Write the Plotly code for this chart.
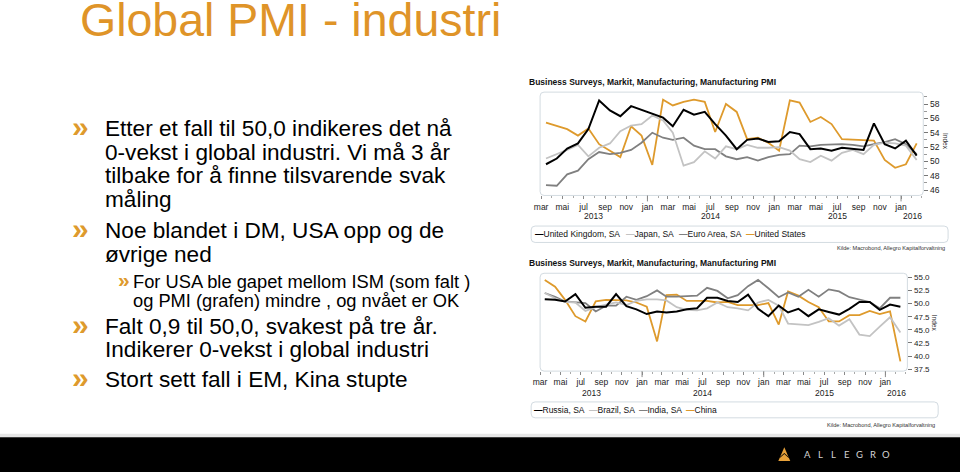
import plotly.graph_objects as go
import pandas as pd

W, H = 960, 472

# ---------------- data ----------------
months = pd.date_range("2013-03-01", "2016-02-01", freq="MS") + pd.Timedelta(days=14)

uk = [49.6, 50.4, 51.8, 52.5, 54.5, 58.5, 57.1, 56.3, 57.7, 57.2, 56.6, 56.1,
      54.9, 57.2, 56.5, 56.9, 55.2, 53.6, 51.7, 53.0, 53.2, 52.7, 52.8, 54.1,
      53.8, 51.7, 51.8, 51.5, 51.9, 51.7, 51.6, 55.3, 52.4, 51.8, 52.9, 50.8]
japan = [50.4, 51.0, 51.6, 52.3, 50.7, 51.9, 52.5, 54.2, 55.0, 55.2, 56.4, 55.7,
         54.0, 49.4, 49.9, 51.4, 50.4, 52.1, 51.7, 52.3, 51.9, 51.9, 52.0, 51.5,
         50.3, 49.9, 50.8, 50.1, 51.2, 51.6, 51.0, 52.3, 52.6, 52.5, 52.2, 50.2]
euro = [46.7, 46.6, 48.2, 48.7, 50.3, 51.3, 51.0, 51.2, 51.6, 52.6, 54.0, 53.3,
        53.0, 53.3, 52.2, 51.7, 51.7, 50.7, 50.3, 50.6, 50.1, 50.6, 50.9, 51.0,
        52.2, 52.1, 52.3, 52.4, 52.4, 52.3, 52.1, 52.4, 52.7, 53.1, 52.4, 51.0]
us = [55.4, 54.9, 54.5, 53.6, 54.6, 52.4, 51.5, 50.6, 54.9, 53.6, 49.5, 58.6,
      57.8, 58.3, 58.6, 58.3, 54.1, 58.0, 56.9, 53.1, 53.3, 52.6, 51.5, 58.5,
      58.2, 55.5, 56.2, 55.2, 53.1, 53.0, 53.0, 52.9, 50.2, 49.1, 49.6, 52.5]

russia = [50.8, 50.7, 50.4, 51.8, 49.2, 49.4, 49.4, 51.8, 49.5, 48.9, 48.0, 48.5,
          48.3, 48.5, 48.9, 49.1, 51.1, 51.1, 50.5, 50.3, 51.7, 49.0, 47.6, 49.6,
          48.3, 49.0, 47.6, 48.9, 48.4, 47.9, 49.0, 50.3, 50.3, 48.8, 49.8, 49.4]
brazil = [52.0, 51.0, 50.3, 50.2, 48.6, 49.3, 49.8, 50.2, 49.7, 50.5, 50.8, 50.8,
          50.6, 49.3, 48.8, 48.7, 49.1, 50.2, 49.3, 49.1, 48.7, 50.2, 50.7, 49.6,
          46.2, 46.0, 45.9, 46.5, 47.2, 45.8, 47.0, 44.1, 43.8, 45.6, 47.4, 44.5]
india = [52.0, 51.3, 50.4, 50.3, 50.1, 48.5, 49.6, 49.6, 51.3, 50.7, 51.4, 52.5,
         51.3, 51.3, 51.4, 51.5, 53.0, 52.4, 51.0, 51.6, 53.3, 54.5, 52.9, 51.2,
         52.1, 51.3, 52.6, 51.3, 52.7, 52.3, 51.2, 50.7, 50.3, 49.1, 51.1, 51.1]
china = [54.5, 53.2, 50.7, 47.6, 46.6, 50.4, 50.7, 50.7, 50.6, 50.2, 49.4, 42.8,
         51.6, 51.7, 50.5, 50.5, 50.5, 50.2, 50.3, 49.7, 49.7, 49.7, 50.1, 46.0,
         52.3, 51.5, 50.3, 49.3, 46.6, 46.6, 47.8, 47.8, 48.6, 48.0, 48.5, 39.0]

month_names = ["jan", "feb", "mar", "apr", "mai", "jun", "jul", "aug", "sep", "okt", "nov", "des"]
top_yticks = [46, 48, 50, 52, 54, 56, 58]
bot_yticks = [37.5, 40.0, 42.5, 45.0, 47.5, 50.0, 52.5, 55.0]

chart_title = "Business Surveys, Markit, Manufacturing, Manufacturing PMI"
top_names = ["United Kingdom, SA", "Japan, SA", "Euro Area, SA", "United States"]
bot_names = ["Russia, SA", "Brazil, SA", "India, SA", "China"]
source = "Kilde: Macrobond, Allegro Kapitalforvaltning"

# ---------------- styles ----------------
ORANGE = "#DE9A2C"
C_BLACK = "#000000"
C_LIGHT = "#c3c3c3"
C_DARK = "#808080"
FONT = "Liberation Sans, Arial, sans-serif"


def px(x):
    return x / W


def py(y):
    return 1 - y / H


def rrect(x0, y0, x1, y1, r):
    pts = [
        ("M", [(x0 + r, y0)]), ("L", [(x1 - r, y0)]), ("Q", [(x1, y0), (x1, y0 + r)]),
        ("L", [(x1, y1 - r)]), ("Q", [(x1, y1), (x1 - r, y1)]), ("L", [(x0 + r, y1)]),
        ("Q", [(x0, y1), (x0, y1 - r)]), ("L", [(x0, y0 + r)]), ("Q", [(x0, y0), (x0 + r, y0)]),
    ]
    s = ""
    for cmd, p in pts:
        s += cmd + " " + " ".join(f"{px(a):.5f},{py(b):.5f}" for a, b in p) + " "
    return s + "Z"


fig = go.Figure()

top_series = [(us, ORANGE, 1.8), (euro, C_DARK, 1.8), (japan, C_LIGHT, 1.8), (uk, C_BLACK, 2.0)]
for vals, col, w in top_series:
    fig.add_trace(go.Scatter(x=months, y=vals, mode="lines", line=dict(color=col, width=w),
                             xaxis="x", yaxis="y", showlegend=False, hoverinfo="skip"))
bot_series = [(china, ORANGE, 1.8), (india, C_DARK, 1.8), (brazil, C_LIGHT, 1.8), (russia, C_BLACK, 2.0)]
for vals, col, w in bot_series:
    fig.add_trace(go.Scatter(x=months, y=vals, mode="lines", line=dict(color=col, width=w),
                             xaxis="x2", yaxis="y2", showlegend=False, hoverinfo="skip"))

tickdates = pd.date_range("2013-03-01", "2016-01-01", freq="2MS")
ticktext = [month_names[d.month - 1] for d in tickdates]

top_range = ["2013-02-26", "2016-03-05"]
bot_range = ["2013-03-01", "2016-03-07"]

TOP_BOX = (537, 92.7, 923, 196.7)
BOT_BOX = (537, 275, 907, 373.5)


def xaxis_cfg(box, rng, anchor):
    return dict(domain=[px(box[0]), px(box[2])], anchor=anchor, type="date", range=rng,
                tickvals=list(tickdates), ticktext=ticktext, ticks="outside", ticklen=3,
                tickcolor="#8a8a8a", tickwidth=1, showline=False, showgrid=False, zeroline=False,
                tickfont=dict(size=8.5, color="#222", family=FONT),
                minor=dict(ticks="outside", ticklen=2, dtick="M1", tick0="2013-01-01",
                           tickcolor="#aaaaaa", showgrid=False))


def yaxis_cfg(box, rng, ticks, anchor, fmt, size, minor):
    d = dict(domain=[py(box[3]), py(box[1])], anchor=anchor, side="right", range=rng,
             tickvals=ticks, tickformat=fmt, ticks="outside", ticklen=4, tickcolor="#777",
             showline=False, showgrid=False, zeroline=False,
             tickfont=dict(size=size, color="#222", family=FONT))
    if minor:
        d["minor"] = dict(ticks="outside", ticklen=3, dtick=1, tick0=0, tickcolor="#999", showgrid=False)
    return d


fig.update_layout(
    width=W, height=H, margin=dict(l=0, r=0, t=0, b=0),
    paper_bgcolor="white", plot_bgcolor="white",
    xaxis=xaxis_cfg(TOP_BOX, top_range, "y"),
    yaxis=yaxis_cfg(TOP_BOX, [45.25, 59.66], top_yticks, "x", "d", 8.5, True),
    xaxis2=xaxis_cfg(BOT_BOX, bot_range, "y2"),
    yaxis2=yaxis_cfg(BOT_BOX, [37.15, 55.76], bot_yticks, "x2", ".1f", 8, False),
    font=dict(family=FONT),
)

shapes = []
ann = []

for box in (TOP_BOX, BOT_BOX):
    shapes.append(dict(type="path", path=rrect(*box, 4), xref="paper", yref="paper",
                       line=dict(color="#d3dbe1", width=1), fillcolor="rgba(0,0,0,0)", layer="below"))

for rng, box, xr, ylab in ((top_range, TOP_BOX, "x", 217.7), (bot_range, BOT_BOX, "x2", 395.5)):
    r0, r1 = pd.Timestamp(rng[0]), pd.Timestamp(rng[1])
    for yr in range(r0.year, r1.year + 1):
        ys, ye = pd.Timestamp(f"{yr}-01-01"), pd.Timestamp(f"{yr + 1}-01-01")
        if r0 < ys < r1:
            shapes.append(dict(type="line", xref=xr, yref="paper", x0=ys, x1=ys,
                               y0=py(box[3]), y1=py(box[3] + 6), line=dict(color="#8a8a8a", width=1)))
        a, b = max(ys, r0), min(ye, r1)
        mid = a + (b - a) / 2
        ann.append(dict(text=str(yr), x=mid, xref=xr, y=py(ylab), yref="paper", showarrow=False,
                        xanchor="center", yanchor="middle", font=dict(size=8.5, color="#222")))

for ytit in (82.3, 264.3):
    ann.append(dict(text="<b>" + chart_title + "</b>", x=px(524), y=py(ytit), xref="paper", yref="paper",
                    showarrow=False, xanchor="left", yanchor="middle", font=dict(size=8.5, color="#111")))

for xi, yi in ((946, 142), (934, 325)):
    ann.append(dict(text="Index", x=px(xi), y=py(yi), xref="paper", yref="paper", showarrow=False,
                    textangle=90, xanchor="center", yanchor="middle", font=dict(size=6.5, color="#333")))

legend_specs = [
    ((528, 227.5, 948, 244), 235.8, list(zip(top_names, [C_BLACK, C_LIGHT, C_DARK, ORANGE])),
     [530, 622, 675, 742], (947, 250)),
    ((528, 404.5, 938, 420.5), 412.5, list(zip(bot_names, [C_BLACK, C_LIGHT, C_DARK, ORANGE])),
     [529, 584, 635, 682], (937, 428)),
]
for box, ytxt, items, xs, (sx, sy) in legend_specs:
    shapes.append(dict(type="path", path=rrect(*box, 4), xref="paper", yref="paper",
                       line=dict(color="#d3dbe1", width=1), fillcolor="rgba(0,0,0,0)"))
    for (name, col), x in zip(items, xs):
        ann.append(dict(text=f"<span style='color:{col}'><b>\u2014</b></span>{name}", x=px(x), y=py(ytxt),
                        xref="paper", yref="paper", showarrow=False, xanchor="left", yanchor="middle",
                        font=dict(size=8.5, color="#111")))
    ann.append(dict(text=source, x=px(sx), y=py(sy), xref="paper", yref="paper", showarrow=False,
                    xanchor="right", yanchor="middle", font=dict(size=5.6, color="#333")))

ann.append(dict(text="Global PMI - industri", x=px(72), y=py(20), xref="paper", yref="paper",
                showarrow=False, xanchor="left", yanchor="middle", font=dict(size=46.5, color="#DF9428")))

BX = 97
SX = 125
lines = [
    ("Etter et fall til 50,0 indikeres det nå", BX, 129, 22.6),
    ("0-vekst i global industri. Vi må 3 år", BX, 153, 22.6),
    ("tilbake for å finne tilsvarende svak", BX, 177, 22.6),
    ("måling", BX, 201, 22.6),
    ("Noe blandet i DM, USA opp og de", BX, 232, 22.6),
    ("øvrige ned", BX, 256, 22.6),
    ("For USA ble gapet mellom ISM (som falt )", SX, 283, 18.3),
    ("og PMI (grafen) mindre , og nvået er OK", SX, 302, 18.3),
    ("Falt 0,9 til 50,0, svakest på tre år.", BX, 329, 22.6),
    ("Indikerer 0-vekst i global industri", BX, 352, 22.6),
    ("Stort sett fall i EM, Kina stupte", BX, 382, 22.6),
]
for t, x, y, s in lines:
    ann.append(dict(text=t, x=px(x), y=py(y), xref="paper", yref="paper", showarrow=False,
                    xanchor="left", yanchor="middle", font=dict(size=s, color="#000")))

for x, y, s in ((74, 127, 30), (74, 230, 30), (118, 281.5, 21), (74, 327, 30), (74, 380, 30)):
    ann.append(dict(text="<b>»</b>", x=px(x), y=py(y), xref="paper", yref="paper", showarrow=False,
                    xanchor="center", yanchor="middle", font=dict(size=s, color=ORANGE)))

shapes.append(dict(type="rect", xref="paper", yref="paper", x0=-0.05, x1=1.05, y0=py(440), y1=py(436.5),
                   fillcolor="#e6e6e6", line=dict(width=0)))
shapes.append(dict(type="rect", xref="paper", yref="paper", x0=-0.05, x1=1.05, y0=-0.05, y1=py(440),
                   fillcolor="#000000", line=dict(width=0)))
shapes.append(dict(type="path", xref="paper", yref="paper",
                   path=f"M {px(777):.5f},{py(464):.5f} L {px(783):.5f},{py(450):.5f} L {px(789):.5f},{py(464):.5f} Z",
                   fillcolor="#E8A23A", line=dict(width=0)))
shapes.append(dict(type="path", xref="paper", yref="paper",
                   path=f"M {px(778.5):.5f},{py(461):.5f} L {px(783):.5f},{py(457):.5f} L {px(787.5):.5f},{py(461):.5f} "
                        f"L {px(787.5):.5f},{py(459.8):.5f} L {px(783):.5f},{py(455.8):.5f} L {px(778.5):.5f},{py(459.8):.5f} Z",
                   fillcolor="#000000", line=dict(width=0)))
for i, ch in enumerate("ALLEGRO"):
    ann.append(dict(text=ch, x=px(806 + i * 13.3), y=py(457.5), xref="paper", yref="paper", showarrow=False,
                    xanchor="center", yanchor="middle", font=dict(size=9.5, color="#d4d4d4", family="Lato, sans-serif")))

fig.update_layout(shapes=shapes, annotations=ann)
fig.write_html("out.html", config={"displayModeBar": False},
               post_script="document.body.style.margin='0px';document.body.style.overflow='hidden';")
